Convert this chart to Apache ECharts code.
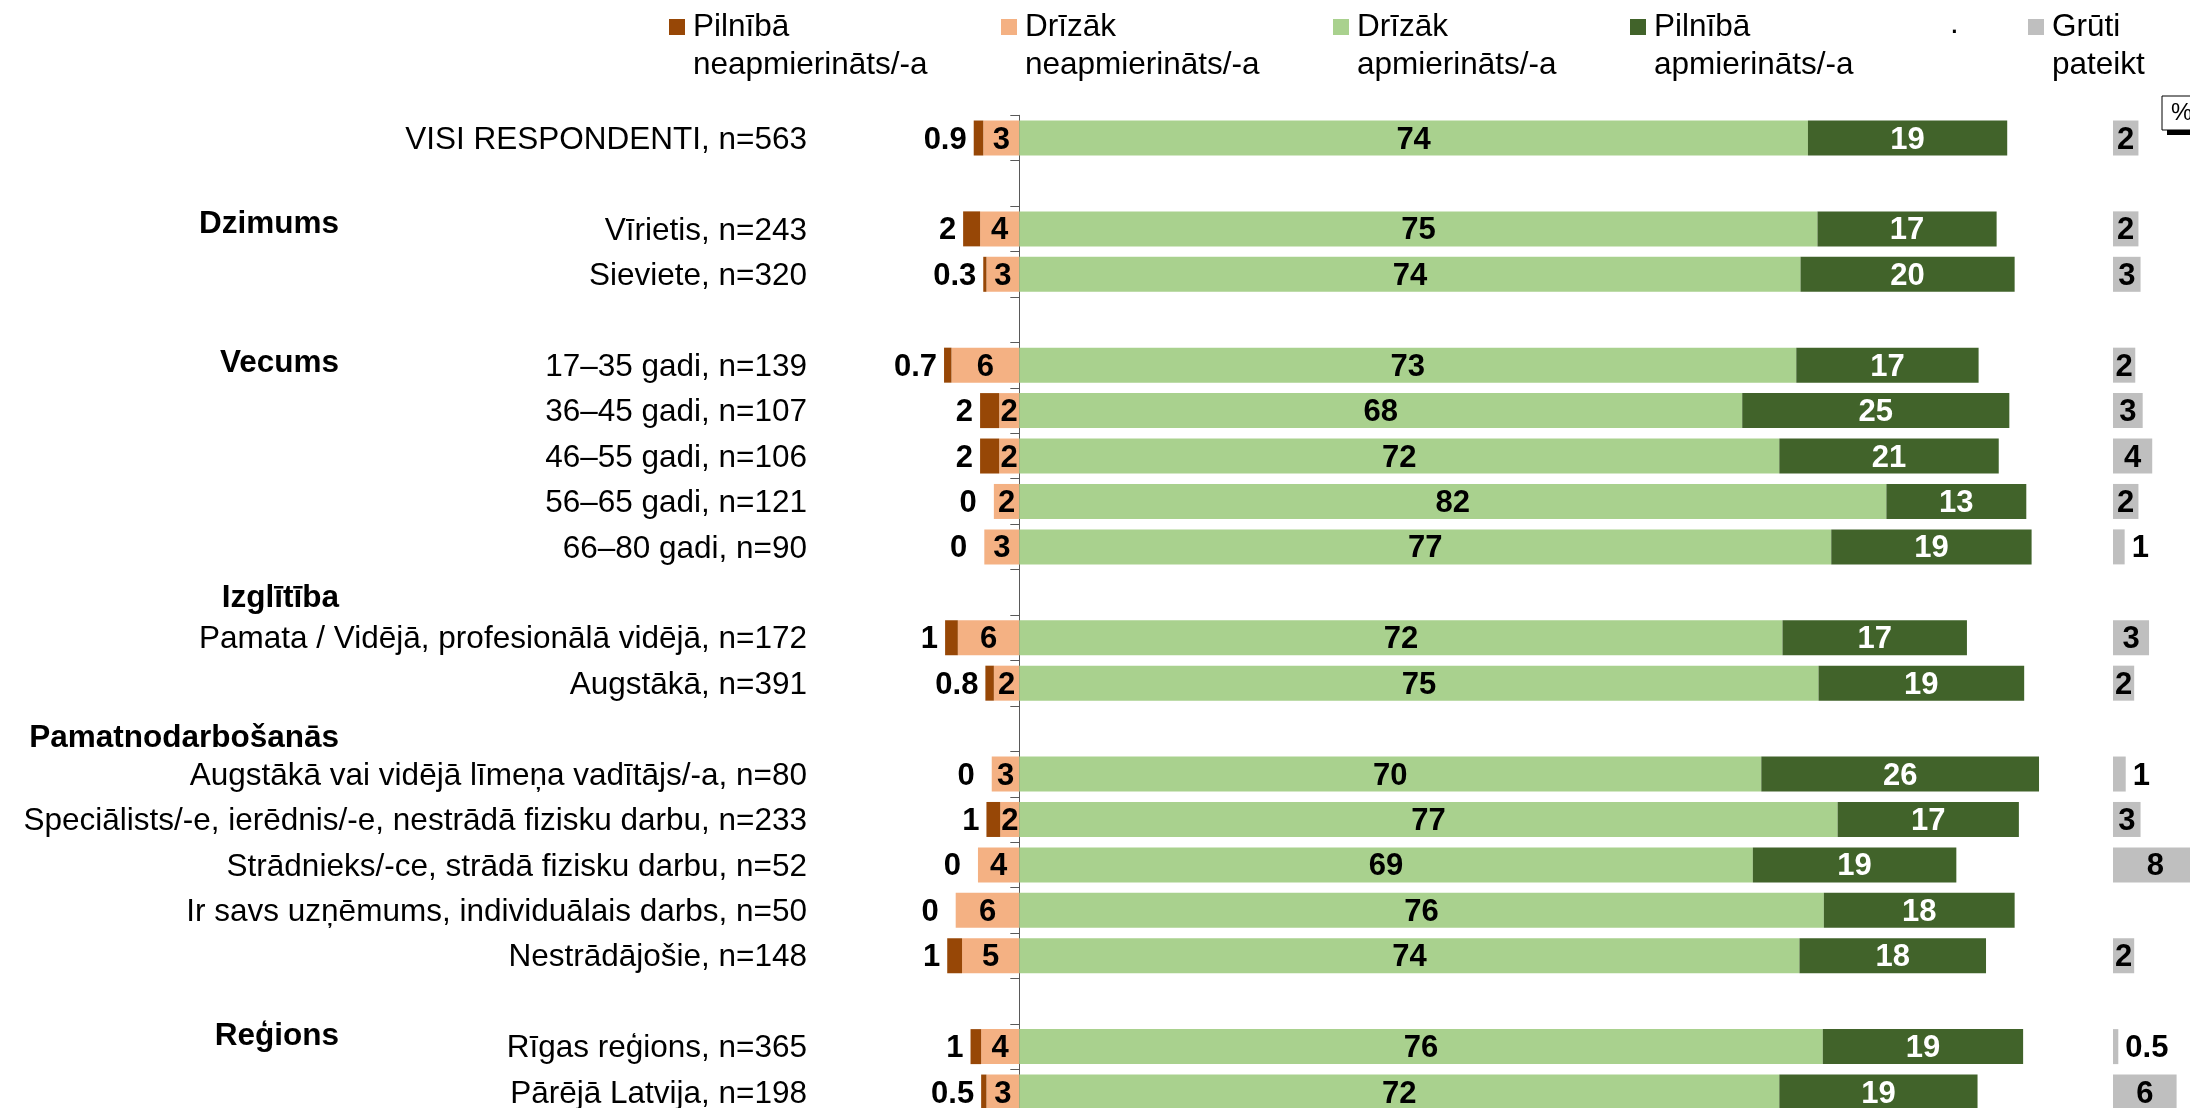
<!DOCTYPE html>
<html>
<head>
<meta charset="utf-8">
<script src="https://cdn.jsdelivr.net/npm/echarts@6.0.0/dist/echarts.min.js"></script>
<style>
    html, body { margin: 0; padding: 0; background: #fff; }
    #chart { width: 2190px; height: 1108px; }
</style>
</head>
<body>
<div id="chart"></div>
<script>
    // rows, blank strings are the empty spacer rows between groups
    var categories = [
        'VISI RESPONDENTI, n=563', '',
        'Vīrietis, n=243', 'Sieviete, n=320', '',
        '17–35 gadi, n=139', '36–45 gadi, n=107', '46–55 gadi, n=106', '56–65 gadi, n=121', '66–80 gadi, n=90', '',
        'Pamata / Vidējā, profesionālā vidējā, n=172', 'Augstākā, n=391', '',
        'Augstākā vai vidējā līmeņa vadītājs/-a, n=80', 'Speciālists/-e, ierēdnis/-e, nestrādā fizisku darbu, n=233',
        'Strādnieks/-ce, strādā fizisku darbu, n=52', 'Ir savs uzņēmums, individuālais darbs, n=50', 'Nestrādājošie, n=148', '',
        'Rīgas reģions, n=365', 'Pārējā Latvija, n=198'
    ]
    var headers = ['', '', 'Dzimums', '', '', 'Vecums', '', '', '', '', 'Izglītība', '', '', 'Pamatnodarbošanās',
        '', '', '', '', '', '', 'Reģions', '']

    var seriesNames = ['Pilnībā\nneapmierināts/-a', 'Drīzāk\nneapmierināts/-a', 'Drīzāk\napmierināts/-a',
        'Pilnībā\napmierināts/-a', 'Grūti\npateikt']

    // percentages
    var fullyDissatisfied = [0.9, null, 1.6, 0.3, null, 0.7, 1.8, 1.8, 0, 0, null, 1.2, 0.8, null, 0, 1.3, 0, 0, 1.4, null, 1.0, 0.5]
    var ratherDissatisfied = [3.4, null, 3.7, 3.1, null, 6.4, 1.9, 1.9, 2.4, 3.3, null, 5.8, 2.4, null, 2.6, 1.8, 3.9, 6.0, 5.4, null, 3.6, 3.1]
    var ratherSatisfied = [74.4, null, 75.3, 73.7, null, 73.3, 68.2, 71.7, 81.8, 76.6, null, 72.0, 75.4, null, 70.0, 77.2, 69.2, 75.9, 73.6, null, 75.8, 71.7]
    var fullySatisfied = [18.8, null, 16.9, 20.2, null, 17.2, 25.2, 20.7, 13.2, 18.9, null, 17.4, 19.4, null, 26.2, 17.1, 19.2, 18.0, 17.6, null, 18.9, 18.7]
    var hardToSay = [2.4, null, 2.4, 2.6, null, 2.1, 2.8, 3.7, 2.4, 1.1, null, 3.4, 2.0, null, 1.2, 2.6, 8.0, null, 2.0, null, 0.5, 6.0]

    var FONT = "'Liberation Sans', Arial, sans-serif"
    var TXT = 31.5
    var colors = ['#974706', '#F4B183', '#A9D18E', '#41632A', '#BFBFBF']

    var k = 10.6          // px per percent
    var zeroX = 1019.3
    var rowTop = 115.3
    var slotH = 45.43
    var grayLeft = 2113
    var gridLeft = zeroX - 10 * k

    // vertical nudges of the group titles (px, + is down)
    var headerShift = {'Dzimums': -5, 'Vecums': -2, 'Izglītība': 6, 'Pamatnodarbošanās': 10, 'Reģions': -10}
    var headerRich = {}
    headers.forEach(function (h, i) {
        if (!h) return
        var d = headerShift[h] || 0
        headerRich['h' + i] = {
            fontSize: TXT, fontWeight: 'bold', fontFamily: FONT, color: '#000',
            padding: d > 0 ? [2 * d, 0, 0, 0] : [0, 0, -2 * d, 0]
        }
    })

    function fmt (v) {
        v = Math.abs(v)
        if (v === 0) return '0'
        if (v < 1) return v.toFixed(1)
        return String(Math.round(v))
    }
    function neg (arr) {
        return arr.map(function (v) { return v === null ? null : -v })
    }
    function valueLabel (pos, color) {
        return {
            show: true, position: pos, distance: 7, offset: [0, 2],
            formatter: function (p) { return fmt(p.value) },
            fontSize: 31, fontWeight: 'bold', fontFamily: FONT, color: color,
            textBorderWidth: 0
        }
    }

    var chart = echarts.init(document.getElementById('chart'))
    var legendX = [669, 1001, 1333, 1630, 2028]

    chart.setOption({
        animation: false,
        backgroundColor: '#fff',
        legend: seriesNames.map(function (nm, i) {
            return {
                data: [nm], left: legendX[i], top: -30, padding: 0,
                icon: 'rect', itemWidth: 16, itemHeight: 16, selectedMode: false,
                formatter: function (name) { return '\n' + name },
                textStyle: {fontSize: TXT, lineHeight: 38, color: '#000', fontFamily: FONT, padding: [0, 0, 0, 3]}
            }
        }),
        grid: [
            {left: gridLeft, top: rowTop, width: 110 * k, height: categories.length * slotH, outerBoundsMode: 'none'},
            {left: grayLeft, top: rowTop, width: 10 * k, height: categories.length * slotH, outerBoundsMode: 'none'}
        ],
        xAxis: [
            {gridIndex: 0, type: 'value', min: -10, max: 100, show: false},
            {gridIndex: 1, type: 'value', min: 0, max: 10, show: false}
        ],
        yAxis: [
            {
                gridIndex: 0, type: 'category', data: categories, inverse: true, position: 'left',
                axisLine: {show: true, onZero: true, lineStyle: {color: '#595959', width: 1}},
                axisTick: {show: true, length: 9, lineStyle: {color: '#595959', width: 1}},
                axisLabel: {
                    interval: 0, margin: gridLeft - 807,
                    formatter: function (v) { return v ? '{c|' + v + '}' : '' },
                    rich: {c: {fontSize: TXT, color: '#000', fontFamily: FONT, padding: [4, 0, 0, 0]}}
                }
            },
            {
                gridIndex: 0, type: 'category', data: headers, inverse: true, position: 'left',
                axisLine: {show: false, onZero: false}, axisTick: {show: false},
                axisLabel: {
                    interval: 0, margin: gridLeft - 339,
                    formatter: function (v, i) { return v ? '{h' + i + '|' + v + '}' : '' },
                    rich: headerRich
                }
            },
            {gridIndex: 1, type: 'category', data: categories, inverse: true, show: false}
        ],
        series: [
            {
                name: seriesNames[1], type: 'bar', stack: 'all', barWidth: 35,
                data: neg(ratherDissatisfied), itemStyle: {color: colors[1]}, label: valueLabel('inside', '#000')
            },
            {
                name: seriesNames[0], type: 'bar', stack: 'all', barWidth: 35,
                // zero values sit a bit further out from the bar end
                data: neg(fullyDissatisfied).map(function (v) {
                    return v === null ? null : {value: v, label: {distance: v === 0 ? 17 : 7}}
                }),
                itemStyle: {color: colors[0]}, label: valueLabel('left', '#000')
            },
            {
                name: seriesNames[2], type: 'bar', stack: 'all', barWidth: 35,
                data: ratherSatisfied, itemStyle: {color: colors[2]}, label: valueLabel('inside', '#000')
            },
            {
                name: seriesNames[3], type: 'bar', stack: 'all', barWidth: 35,
                data: fullySatisfied, itemStyle: {color: colors[3]}, label: valueLabel('inside', '#fff')
            },
            {
                name: seriesNames[4], type: 'bar', xAxisIndex: 1, yAxisIndex: 2, barWidth: 35,
                data: hardToSay.map(function (v) {
                    return v === null ? null : {value: v, label: {position: v < 1.5 ? 'right' : 'inside'}}
                }),
                itemStyle: {color: colors[4]}, label: valueLabel('inside', '#000')
            }
        ],
        graphic: [
            {type: 'text', left: 1950, top: 8, style: {text: '.', font: TXT + 'px ' + FONT, fill: '#000'}},
            {type: 'rect', shape: {x: 2167, y: 100, width: 40, height: 35}, style: {fill: '#000'}},
            {type: 'rect', shape: {x: 2162, y: 96, width: 40, height: 34}, style: {fill: '#fff', stroke: '#000', lineWidth: 1}},
            {type: 'text', x: 2171, y: 113, style: {text: '%', font: '24px ' + FONT, fill: '#000', verticalAlign: 'middle'}}
        ]
    })
</script>
</body>
</html>
